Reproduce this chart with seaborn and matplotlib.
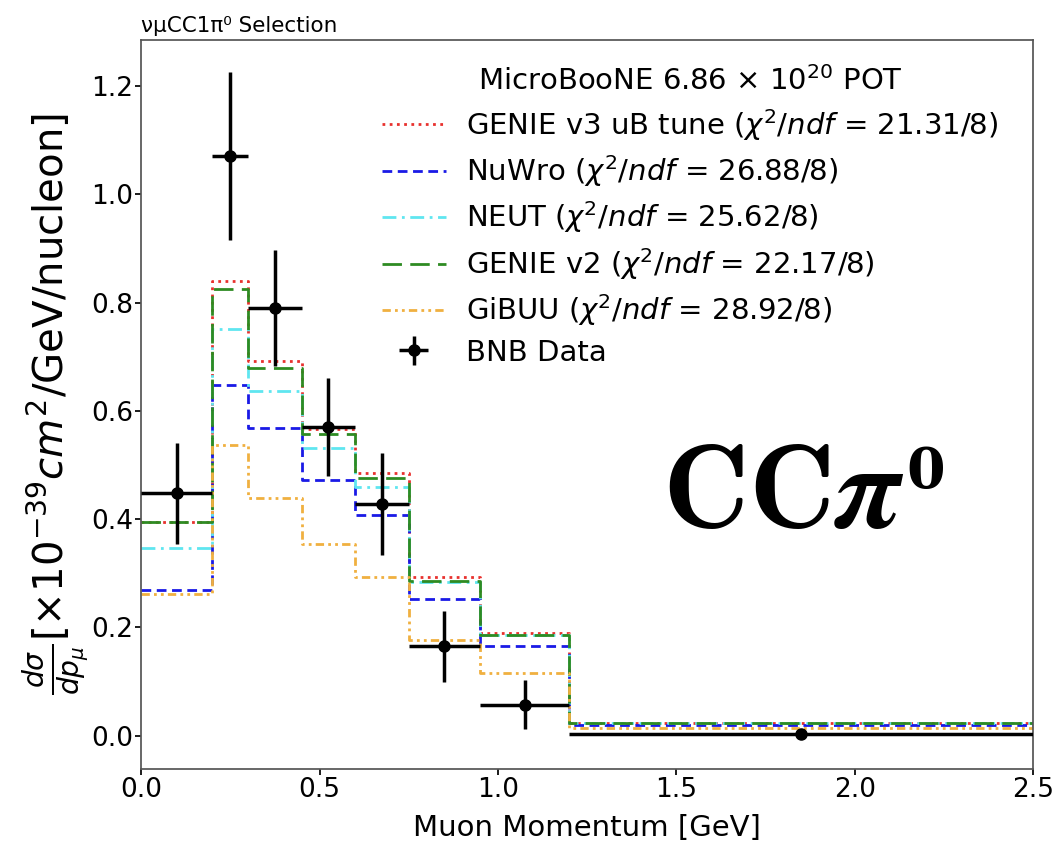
import matplotlib.pyplot as plt
import numpy as np
import pandas as pd
import seaborn as sns

# Binning (muon momentum, GeV)
edges = [0.0, 0.2, 0.3, 0.45, 0.6, 0.75, 0.95, 1.2, 2.5]

# Model predictions, 1e-39 cm^2/GeV/nucleon
genie_v3 = [0.395, 0.840, 0.693, 0.566, 0.485, 0.294, 0.189, 0.024]
nuwro = [0.270, 0.648, 0.568, 0.472, 0.407, 0.252, 0.165, 0.020]
neut = [0.346, 0.752, 0.637, 0.531, 0.459, 0.283, 0.186, 0.024]
genie_v2 = [0.395, 0.826, 0.680, 0.557, 0.476, 0.285, 0.186, 0.023]
gibuu = [0.261, 0.537, 0.439, 0.355, 0.294, 0.176, 0.115, 0.015]

# BNB data
data_y = [0.448, 1.070, 0.790, 0.570, 0.428, 0.165, 0.057, 0.004]
data_err = [0.093, 0.155, 0.107, 0.090, 0.094, 0.065, 0.045, 0.004]

labels = [
    r'GENIE v3 uB tune ($\chi^2/ndf$ = 21.31/8)',
    r'NuWro ($\chi^2/ndf$ = 26.88/8)',
    r'NEUT ($\chi^2/ndf$ = 25.62/8)',
    r'GENIE v2 ($\chi^2/ndf$ = 22.17/8)',
    r'GiBUU ($\chi^2/ndf$ = 28.92/8)',
]

sns.set_theme(style='ticks')
plt.rcParams['font.family'] = ['DejaVu Sans']
plt.rcParams.update({'text.color': 'black', 'axes.labelcolor': 'black',
                     'xtick.color': 'black', 'ytick.color': 'black',
                     'axes.edgecolor': '#555555'})

edges_arr = np.array(edges)
centers = (edges_arr[:-1] + edges_arr[1:]) / 2
half = (edges_arr[1:] - edges_arr[:-1]) / 2

df = pd.DataFrame({'center': np.tile(centers, 5),
                   'xsec': np.concatenate([genie_v3, nuwro, neut, genie_v2, gibuu]),
                   'model': np.repeat(labels, len(centers))})

styles = [
    dict(color='#e8312e', linestyle=(0, (1, 1.6))),
    dict(color='#1a1ae6', linestyle=(0, (3.5, 2))),
    dict(color='#5fe6f0', linestyle=(0, (5, 2, 1, 2))),
    dict(color='#2e8b22', linestyle=(0, (7, 3))),
    dict(color='#f0b040', linestyle=(0, (3, 1.5, 1, 1.5, 1, 1.5))),
]

fig, ax = plt.subplots(figsize=(10.61, 8.42), dpi=100)
fig.subplots_adjust(left=0.133, right=0.974, bottom=0.087, top=0.9525)

for lab, st in zip(labels, styles):
    sub = df[df['model'] == lab]
    sns.histplot(data=sub, x='center', weights='xsec', bins=edges,
                 element='step', fill=False, linewidth=2, label=lab, ax=ax, **st)

ax.errorbar(centers, data_y, xerr=half, yerr=data_err, fmt='o', color='black',
            ms=8, elinewidth=2.5, capsize=0, label='BNB Data', zorder=5)

ax.set_xlim(0, 2.5)
ax.set_ylim(-0.061, 1.285)
ax.set_xticks([0.0, 0.5, 1.0, 1.5, 2.0, 2.5])
ax.set_yticks([0.0, 0.2, 0.4, 0.6, 0.8, 1.0, 1.2])
ax.tick_params(labelsize=19, length=4, pad=2)
ax.set_xlabel('Muon Momentum [GeV]', fontsize=21, labelpad=8)
ax.set_ylabel(r'$\frac{d\sigma}{dp_\mu}$[$\times10^{-39}cm^2$/GeV/nucleon]', fontsize=29, labelpad=0)
ax.set_title('νμCC1π⁰ Selection', loc='left', fontsize=15.5, pad=6)

leg = ax.legend(loc='upper right', frameon=False, fontsize=21,
                title=r'MicroBooNE 6.86 $\times$ 10$^{20}$ POT', title_fontsize=21,
                handlelength=2.2, handletextpad=0.7, labelspacing=0.36,
                bbox_to_anchor=(0.99, 1.0))

# big channel label, bold serif (superscript drawn separately so it stays bold)
ax.text(1.46, 0.386, r'$\mathbf{CC}\boldsymbol{\pi}$', fontsize=86,
        math_fontfamily='cm', ha='left', va='baseline')
ax.text(2.145, 0.458, '0', fontsize=40, family='DejaVu Serif', weight='bold',
        ha='left', va='baseline')

fig.savefig('out.png', dpi=100)
